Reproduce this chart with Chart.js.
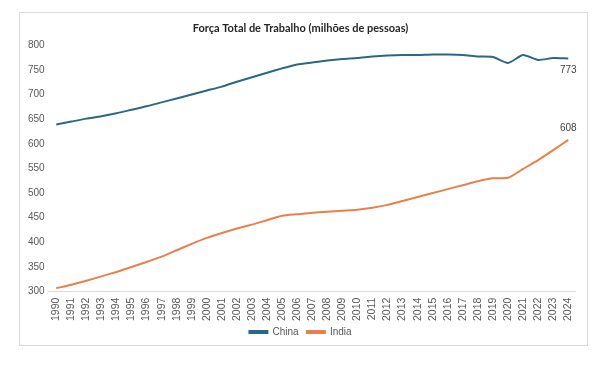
<!DOCTYPE html>
<html>
<head>
<meta charset="utf-8">
<script src="https://cdn.jsdelivr.net/npm/chart.js@4"></script>
<style>
  body { margin: 0; background: #fff; }
  #wrap {
    position: absolute; left: 19px; top: 12px;
    width: 567px; height: 332px;
    border: 1px solid #d9d9d9; background: #fff;
  }
</style>
</head>
<body>
<div id="wrap"><canvas id="myChartLine" width="567" height="332"></canvas></div>
<script>
const years = ['1990','1991','1992','1993','1994','1995','1996','1997','1998','1999',
  '2000','2001','2002','2003','2004','2005','2006','2007','2008','2009',
  '2010','2011','2012','2013','2014','2015','2016','2017','2018','2019',
  '2020','2021','2022','2023','2024'];
const china = [639, 645, 651, 656, 662, 669, 676, 684, 692, 700,
  708, 716, 726, 735, 744, 753, 761, 765, 769, 772,
  774, 777, 779, 780, 780, 781, 781, 780, 777, 776,
  764, 780, 770, 774, 773];
const india = [307, 314, 322, 331, 340, 350, 360, 371, 384, 397,
  409, 419, 428, 436, 445, 454, 457, 460, 462, 464,
  466, 470, 476, 484, 492, 500, 508, 516, 524, 530,
  531, 549, 567, 587, 608];
const yTicks = [300, 350, 400, 450, 500, 550, 600, 650, 700, 750, 800];

const txt = '#595959';
const fontTick = { family: "'Liberation Sans', sans-serif", size: 10 };
const fontYear = { family: "'Liberation Sans', sans-serif", size: 10.5 };

// label on the last point of each series
const lastLabel = {
  id: 'lastLabel',
  afterDatasetsDraw(chart) {
    const ctx = chart.ctx;
    ctx.save();
    ctx.font = "10px 'Liberation Sans', sans-serif";
    ctx.fillStyle = '#404040';
    ctx.textAlign = 'center';
    chart.data.datasets.forEach((ds, i) => {
      const pts = chart.getDatasetMeta(i).data;
      const p = pts[pts.length - 1];
      const v = ds.data[ds.data.length - 1];
      if (ds.label === 'China') {
        ctx.textBaseline = 'top';
        ctx.fillText(v, p.x, p.y + 7);
      } else {
        ctx.textBaseline = 'bottom';
        ctx.fillText(v, p.x, p.y - 7);
      }
    });
    ctx.restore();
  }
};

const ctx = document.getElementById('myChartLine').getContext('2d');
new Chart(ctx, {
  type: 'line',
  data: {
    labels: years,
    datasets: [
      { label: 'China', data: china, borderColor: '#2b6884', backgroundColor: '#2b6884',
        borderWidth: 2, pointRadius: 0, tension: 0.2 },
      { label: 'Índia', data: india, borderColor: '#e8804a', backgroundColor: '#e8804a',
        borderWidth: 2, pointRadius: 0, tension: 0.2 }
    ]
  },
  options: {
    responsive: false,
    animation: false,
    layout: { padding: { left: 4, right: 10, top: 1, bottom: -2 } },
    plugins: {
      title: {
        display: true,
        text: 'Força Total de Trabalho (milhões de pessoas)',
        color: '#262626',
        font: { family: "Lato, 'Liberation Sans', sans-serif", size: 11, weight: 'bold' },
        padding: { top: 8, bottom: 10 }
      },
      legend: {
        position: 'bottom',
        labels: {
          color: txt, font: fontTick,
          boxWidth: 18, boxHeight: 2, padding: 0,
          generateLabels: (chart) => {
            const items = Chart.defaults.plugins.legend.labels.generateLabels(chart);
            items.forEach((it, i) => { if (i < items.length - 1) it.text += '   '; });
            return items;
          }
        }
      },
      tooltip: { enabled: false }
    },
    scales: {
      x: {
        offset: true,
        grid: { display: false, drawTicks: false },
        border: { color: '#d9d9d9' },
        ticks: { color: txt, font: fontYear, maxRotation: 90, minRotation: 90, autoSkip: false, padding: 6 }
      },
      y: {
        min: 300, max: 800,
        afterBuildTicks: (axis) => { axis.ticks = yTicks.map(v => ({ value: v })); },
        grid: { display: false, drawTicks: false },
        border: { display: false },
        ticks: { color: txt, font: fontTick, padding: 4 }
      }
    }
  },
  plugins: [lastLabel]
});
</script>
</body>
</html>
